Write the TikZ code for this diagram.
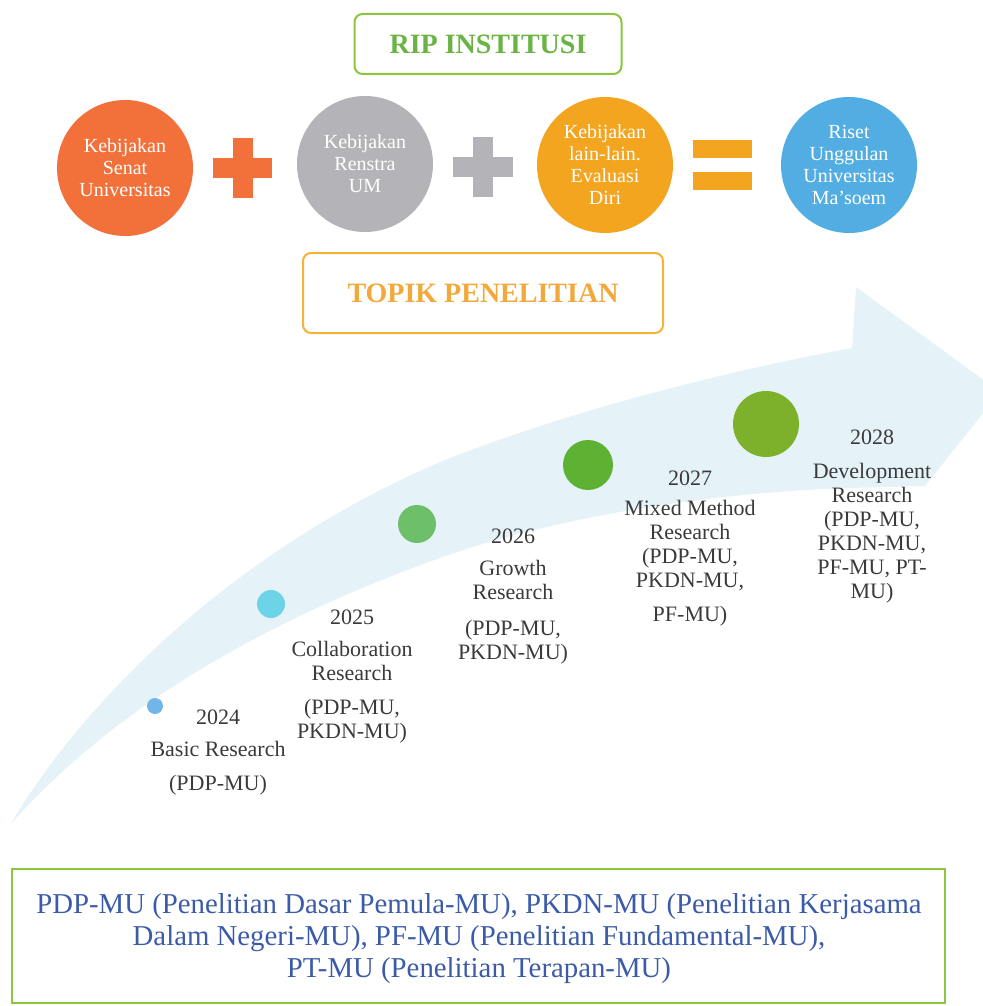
\documentclass[tikz,border=0pt]{standalone}
\usepackage{fontspec}
\setmainfont{Liberation Serif}
\usetikzlibrary{positioning}
\definecolor{ripgreen}{HTML}{8CC63F}
\definecolor{riptext}{HTML}{6AB344}
\definecolor{topikline}{HTML}{F5B335}
\definecolor{topiktext}{HTML}{F2A93B}
\definecolor{senat}{HTML}{F2703A}
\definecolor{renstra}{HTML}{B4B4B8}
\definecolor{evaluasi}{HTML}{F3A51F}
\definecolor{riset}{HTML}{52AEE2}
\definecolor{swoosh}{RGB}{229,243,248}
\definecolor{dotA}{HTML}{72B5E9}
\definecolor{dotB}{HTML}{6DD3E6}
\definecolor{dotC}{HTML}{6DBF6A}
\definecolor{dotD}{HTML}{5DB234}
\definecolor{dotE}{HTML}{7DB12C}
\definecolor{labelgray}{HTML}{3A3A3A}
\definecolor{notesblue}{HTML}{3B5BA9}
\tikzset{
  titlebox/.style={rectangle, rounded corners=4pt, line width=1pt, text centered, font=\fontsize{14}{16}\selectfont\bfseries},
  bubble/.style={circle, minimum size=68pt, inner sep=0pt, text=white, align=center, font=\fontsize{10}{11}\selectfont},
  yeardot/.style={circle, inner sep=0pt},
  lbl/.style={anchor=north, inner sep=0pt, align=center, text=labelgray, font=\fontsize{11}{12}\selectfont},
  node distance=7mm
}

\begin{document}
\begin{tikzpicture}[x=0.5pt, y=-0.5pt]
	\useasboundingbox (0,0) rectangle (982,1006);
	
	% swoosh arrow
	\fill[swoosh] (10,825) .. controls (90,690) and (250,540) .. (450,458) .. controls (600,400) and (760,365) .. (852,348) -- (856,287) -- (1000,392) -- (925,486) -- (850,488) .. controls (720,492) and (560,515) .. (440,558) .. controls (280,615) and (120,700) .. cycle;
	
	% top row
	\node[titlebox, draw=ripgreen, text=riptext, minimum width=133.5pt, minimum height=30pt] (rip) at (488,44) {RIP INSTITUSI};
	\node[bubble, fill=senat] (senat) at (125,168) {Kebijakan\\Senat\\Universitas};
	\node[bubble, fill=renstra] (renstra) at (365,164) {Kebijakan\\Renstra\\UM};
	\node[bubble, fill=evaluasi] (evaluasi) at (605,165) {Kebijakan\\lain-lain.\\Evaluasi\\Diri};
	\node[bubble, fill=riset] (riset) at (849,165) {Riset\\Unggulan\\Universitas\\Ma'soem};
	\node[titlebox, draw=topikline, text=topiktext, minimum width=180pt, minimum height=40pt] (topik) at (483,293) {TOPIK PENELITIAN};
	
	% plus, plus, equals
	\fill[senat] (213,158) rectangle (272,178);
	\fill[senat] (233,138) rectangle (253,198);
	\fill[renstra] (453,157) rectangle (513,177);
	\fill[renstra] (473,137) rectangle (493,197);
	\fill[evaluasi] (693,140) rectangle (752,158);
	\fill[evaluasi] (693,172) rectangle (752,190);
	
	% timeline
	\node[yeardot, fill=dotA, minimum size=8pt] (y24) at (155,706) {};
	\node[yeardot, fill=dotB, minimum size=14pt] (y25) at (271,604) {};
	\node[yeardot, fill=dotC, minimum size=19pt] (y26) at (417,524) {};
	\node[yeardot, fill=dotD, minimum size=25pt] (y27) at (588,465) {};
	\node[yeardot, fill=dotE, minimum size=33pt] (y28) at (766,424) {};
	
	\node[lbl] (t24) at (218,709) {2024\\[4pt]Basic Research\\[5pt](PDP-MU)};
	\node[lbl] (t25) at (352,609) {2025\\[4pt]Collaboration\\Research\\[5pt](PDP-MU,\\PKDN-MU)};
	\node[lbl] (t26) at (513,528) {2026\\[4pt]Growth\\Research\\[6pt](PDP-MU,\\PKDN-MU)};
	\node[lbl] (t27) at (690,470) {2027\\[3pt]Mixed Method\\Research\\(PDP-MU,\\PKDN-MU,\\[5pt]PF-MU)};
	\node[lbl] (t28) at (872,429) {2028\\[5pt]Development\\Research\\(PDP-MU,\\PKDN-MU,\\PF-MU, PT-\\MU)};
	
	% notes
	\draw[ripgreen, line width=1pt] (12,869) rectangle (945,1003);
	\node[align=center, text=notesblue, font=\fontsize{14.4}{16}\selectfont] (notes) at (479,939) {PDP-MU (Penelitian Dasar Pemula-MU), PKDN-MU (Penelitian Kerjasama\\Dalam Negeri-MU), PF-MU (Penelitian Fundamental-MU),\\PT-MU (Penelitian Terapan-MU)};
	
\end{tikzpicture}
\end{document}
